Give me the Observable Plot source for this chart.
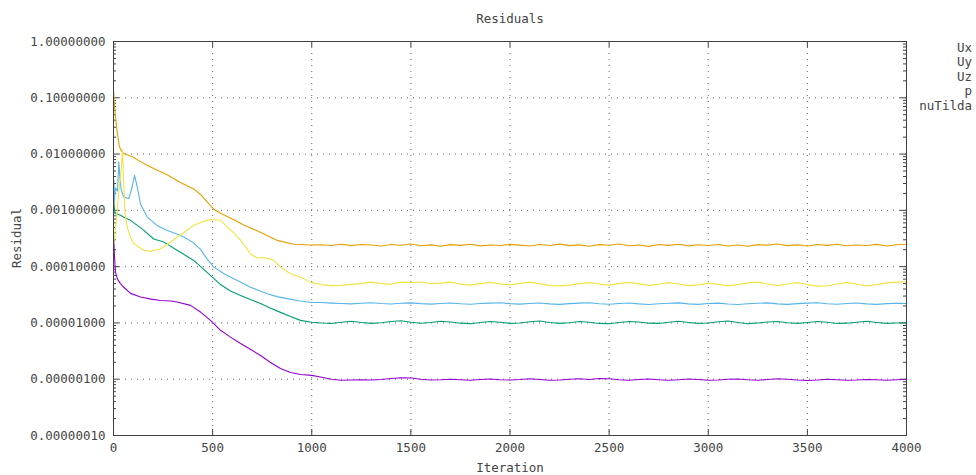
<!DOCTYPE html>
<html>
<head>
<meta charset="utf-8">
<script src="https://cdn.jsdelivr.net/npm/d3@7"></script>
<script src="https://cdn.jsdelivr.net/npm/@observablehq/plot@0.6"></script>
<style>
  html, body { margin: 0; padding: 0; background: #fff; }
  #wrap { position: relative; width: 976px; height: 475px; font-family: "DejaVu Sans Mono", monospace; font-size: 12.5px; color: #444; }
  .lbl { position: absolute; white-space: nowrap; line-height: 14px; }
  #legend { position: absolute; right: 4px; top: 40.5px; text-align: right; line-height: 14.5px; }
</style>
</head>
<body>
<div id="wrap">
  <div id="chart"></div>
  <div class="lbl" style="left:510px; top:12px; transform:translateX(-50%);">Residuals</div>
  <div class="lbl" style="left:510px; top:461px; transform:translateX(-50%);">Iteration</div>
  <div class="lbl" style="left:17px; top:238px; transform:translate(-50%,-50%) rotate(-90deg);">Residual</div>
  <div id="legend"></div>
</div>
<script>
// ---- Series names / colours ----
const seriesNames = ["Ux", "Uy", "Uz", "p", "nuTilda"];
const seriesColors = ["#9400D3", "#009E73", "#56B4E9", "#E69F00", "#F0E442"];

// ---- Tick values ----
const xTicks = [0, 500, 1000, 1500, 2000, 2500, 3000, 3500, 4000];
const yTicks = [1e-7, 1e-6, 1e-5, 1e-4, 1e-3, 1e-2, 1e-1, 1];

// ---- Early (transient) phase ----
const uxIter = [1, 5, 10, 20, 35, 52, 86, 136, 190, 237, 290, 321, 388, 439, 489, 540, 590, 641, 690, 742, 790, 842, 893, 943, 1000];
const uxVal = [3.5e-4, 1.5e-4, 8e-5, 6e-5, 5e-5, 4.3e-5, 3.35e-5, 2.88e-5, 2.65e-5, 2.51e-5, 2.45e-5, 2.35e-5, 2.05e-5, 1.56e-5, 1.11e-5, 7.4e-6, 5.6e-6, 4.3e-6, 3.4e-6, 2.64e-6, 2.0e-6, 1.55e-6, 1.32e-6, 1.21e-6, 1.17e-6];

const uyIter = [1, 3, 8, 20, 35, 60, 86, 120, 153, 203, 254, 321, 405, 489, 540, 590, 641, 690, 742, 790, 842, 893, 943, 1000];
const uyVal = [3.5e-3, 1.2e-3, 8.8e-4, 8.5e-4, 8.2e-4, 7.3e-4, 6.65e-4, 5.4e-4, 4.4e-4, 3.1e-4, 2.73e-4, 1.95e-4, 1.29e-4, 7.0e-5, 4.8e-5, 3.7e-5, 3.08e-5, 2.6e-5, 2.22e-5, 1.85e-5, 1.54e-5, 1.3e-5, 1.11e-5, 1.03e-5];

const uzIter = [1, 4, 10, 20, 27, 33, 39, 52, 77, 94, 106, 120, 136, 170, 220, 271, 320, 355, 400, 439, 470, 506, 560, 607, 650, 691, 740, 775, 830, 876, 940, 1000];
const uzVal = [3.0e-3, 1.5e-3, 2.5e-3, 2.2e-3, 7.2e-3, 3.5e-3, 2.3e-3, 1.73e-3, 1.62e-3, 2.6e-3, 4.2e-3, 2.6e-3, 1.3e-3, 7.6e-4, 5.4e-4, 4.4e-4, 3.8e-4, 3.36e-4, 2.7e-4, 2.03e-4, 1.4e-4, 9.8e-5, 7.4e-5, 6.1e-5, 5.1e-5, 4.3e-5, 3.7e-5, 3.3e-5, 2.9e-5, 2.7e-5, 2.45e-5, 2.31e-5];

const pIter = [1, 3, 6, 12, 20, 30, 40, 50, 100, 150, 200, 270, 340, 405, 440, 470, 506, 540, 607, 657, 740, 825, 909, 1000];
const pVal = [0.13, 0.09, 0.065, 0.04, 0.023, 0.0135, 0.0115, 0.0103, 0.0088, 0.0069, 0.0056, 0.0043, 0.0031, 0.0024, 0.0019, 0.00145, 0.00105, 0.00089, 0.00068, 0.00055, 0.00041, 0.000293, 0.00025, 0.000243];

const nuIter = [1, 15, 30, 40, 45, 50, 54, 58, 69, 85, 102, 153, 187, 237, 280, 321, 365, 405, 450, 489, 520, 540, 574, 610, 641, 691, 725, 750, 775, 809, 842, 893, 943, 1000];
const nuVal = [2.5e-4, 7e-4, 2.8e-3, 6e-3, 1.2e-2, 4e-3, 1.8e-3, 9e-4, 5.05e-4, 3.4e-4, 2.56e-4, 1.95e-4, 1.87e-4, 2.08e-4, 2.6e-4, 3.36e-4, 4.3e-4, 5.42e-4, 6.3e-4, 6.84e-4, 6.8e-4, 6.65e-4, 5.05e-4, 3.9e-4, 2.93e-4, 1.70e-4, 1.42e-4, 1.45e-4, 1.42e-4, 1.29e-4, 9.8e-5, 7.5e-5, 6.5e-5, 5.2e-5];

// ---- Converged phase, sampled every 50 iterations ----
const lateIter = [1050, 1100, 1150, 1200, 1250, 1300, 1350, 1400, 1450, 1500,
  1550, 1600, 1650, 1700, 1750, 1800, 1850, 1900, 1950, 2000,
  2050, 2100, 2150, 2200, 2250, 2300, 2350, 2400, 2450, 2500,
  2550, 2600, 2650, 2700, 2750, 2800, 2850, 2900, 2950, 3000,
  3050, 3100, 3150, 3200, 3250, 3300, 3350, 3400, 3450, 3500,
  3550, 3600, 3650, 3700, 3750, 3800, 3850, 3900, 3950, 4000];

const uxLate = [1.08e-6, 1.0e-6, 0.96e-6, 0.97e-6, 0.98e-6, 0.97e-6, 0.99e-6, 1.03e-6, 1.06e-6, 1.05e-6,
  1.0e-6, 0.97e-6, 0.98e-6, 1.0e-6, 0.98e-6, 0.96e-6, 0.99e-6, 1.01e-6, 0.98e-6, 0.97e-6,
  0.99e-6, 1.02e-6, 0.99e-6, 0.96e-6, 0.97e-6, 1.0e-6, 1.02e-6, 0.99e-6, 1.03e-6, 1.02e-6,
  0.98e-6, 0.96e-6, 0.99e-6, 1.01e-6, 0.98e-6, 0.96e-6, 0.98e-6, 1.01e-6, 0.99e-6, 0.96e-6,
  0.97e-6, 1.0e-6, 1.01e-6, 0.98e-6, 0.96e-6, 0.99e-6, 1.02e-6, 1.0e-6, 0.97e-6, 0.95e-6,
  0.97e-6, 1.0e-6, 0.98e-6, 0.96e-6, 0.97e-6, 0.99e-6, 0.98e-6, 0.96e-6, 0.98e-6, 0.99e-6];

const uyLate = [1.00e-5, 0.98e-5, 1.03e-5, 1.07e-5, 1.02e-5, 0.98e-5, 1.01e-5, 1.06e-5, 1.09e-5, 1.03e-5,
  0.99e-5, 1.02e-5, 1.07e-5, 1.04e-5, 0.99e-5, 0.97e-5, 1.02e-5, 1.06e-5, 1.03e-5, 0.98e-5,
  1.00e-5, 1.05e-5, 1.08e-5, 1.02e-5, 0.98e-5, 1.01e-5, 1.06e-5, 1.03e-5, 0.98e-5, 0.97e-5,
  1.02e-5, 1.06e-5, 1.04e-5, 0.99e-5, 0.98e-5, 1.03e-5, 1.07e-5, 1.02e-5, 0.98e-5, 1.00e-5,
  1.05e-5, 1.08e-5, 1.02e-5, 0.97e-5, 1.00e-5, 1.04e-5, 1.06e-5, 1.01e-5, 0.98e-5, 1.02e-5,
  1.06e-5, 1.03e-5, 0.98e-5, 0.99e-5, 1.03e-5, 1.07e-5, 1.02e-5, 0.98e-5, 1.00e-5, 1.01e-5];

const uzLate = [2.30e-5, 2.25e-5, 2.22e-5, 2.18e-5, 2.24e-5, 2.28e-5, 2.21e-5, 2.17e-5, 2.23e-5, 2.27e-5,
  2.20e-5, 2.16e-5, 2.22e-5, 2.26e-5, 2.19e-5, 2.15e-5, 2.21e-5, 2.25e-5, 2.29e-5, 2.20e-5,
  2.16e-5, 2.22e-5, 2.26e-5, 2.18e-5, 2.14e-5, 2.20e-5, 2.25e-5, 2.28e-5, 2.19e-5, 2.15e-5,
  2.21e-5, 2.26e-5, 2.18e-5, 2.13e-5, 2.19e-5, 2.24e-5, 2.27e-5, 2.18e-5, 2.14e-5, 2.21e-5,
  2.25e-5, 2.17e-5, 2.13e-5, 2.19e-5, 2.24e-5, 2.27e-5, 2.18e-5, 2.14e-5, 2.20e-5, 2.25e-5,
  2.28e-5, 2.19e-5, 2.15e-5, 2.21e-5, 2.26e-5, 2.18e-5, 2.14e-5, 2.20e-5, 2.24e-5, 2.22e-5];

const pLate = [2.45e-4, 2.38e-4, 2.50e-4, 2.36e-4, 2.47e-4, 2.42e-4, 2.33e-4, 2.48e-4, 2.40e-4, 2.52e-4,
  2.35e-4, 2.44e-4, 2.30e-4, 2.46e-4, 2.39e-4, 2.50e-4, 2.34e-4, 2.43e-4, 2.37e-4, 2.49e-4,
  2.41e-4, 2.32e-4, 2.47e-4, 2.38e-4, 2.51e-4, 2.36e-4, 2.44e-4, 2.31e-4, 2.46e-4, 2.40e-4,
  2.53e-4, 2.35e-4, 2.42e-4, 2.29e-4, 2.47e-4, 2.39e-4, 2.50e-4, 2.34e-4, 2.45e-4, 2.37e-4,
  2.48e-4, 2.33e-4, 2.43e-4, 2.30e-4, 2.46e-4, 2.41e-4, 2.52e-4, 2.36e-4, 2.44e-4, 2.32e-4,
  2.47e-4, 2.39e-4, 2.50e-4, 2.35e-4, 2.43e-4, 2.38e-4, 2.49e-4, 2.33e-4, 2.45e-4, 2.50e-4];

const nuLate = [4.8e-5, 4.6e-5, 4.65e-5, 4.85e-5, 5.0e-5, 5.3e-5, 5.0e-5, 4.85e-5, 5.3e-5, 5.2e-5,
  5.35e-5, 5.0e-5, 5.1e-5, 5.3e-5, 4.9e-5, 4.7e-5, 5.0e-5, 5.25e-5, 4.95e-5, 4.75e-5,
  5.05e-5, 5.3e-5, 5.0e-5, 4.6e-5, 4.55e-5, 4.7e-5, 5.0e-5, 5.2e-5, 4.9e-5, 4.7e-5,
  5.0e-5, 5.25e-5, 4.95e-5, 4.65e-5, 4.85e-5, 5.2e-5, 4.9e-5, 4.6e-5, 4.75e-5, 5.1e-5,
  4.85e-5, 4.55e-5, 4.8e-5, 5.15e-5, 5.3e-5, 4.9e-5, 4.6e-5, 4.9e-5, 5.2e-5, 4.8e-5,
  4.5e-5, 4.55e-5, 4.9e-5, 5.2e-5, 4.85e-5, 4.55e-5, 4.8e-5, 5.15e-5, 5.3e-5, 5.4e-5];

// ---- Build long table ----
const groups = [
  ["Ux", uxIter, uxVal, uxLate],
  ["Uy", uyIter, uyVal, uyLate],
  ["Uz", uzIter, uzVal, uzLate],
  ["p", pIter, pVal, pLate],
  ["nuTilda", nuIter, nuVal, nuLate]
];
const rows = [];
for (const [name, it, va, late] of groups) {
  it.forEach((x, i) => rows.push({series: name, iter: x, value: va[i]}));
  lateIter.forEach((x, i) => rows.push({series: name, iter: x, value: late[i]}));
}

// minor ticks on the log axis (2..9 within each decade)
const yMinor = [];
for (let e = -7; e < 0; e++) for (let m = 2; m <= 9; m++) yMinor.push(m * Math.pow(10, e));

const W = 976, H = 475, mL = 113, mR = 70, mT = 41, mB = 40;
const fw = W - mL - mR, fh = H - mT - mB;
const gridStyle = {stroke: "#666", strokeOpacity: 1, strokeWidth: 1, strokeDasharray: "1,5"};

const chart = Plot.plot({
  width: W, height: H,
  marginLeft: mL, marginRight: mR, marginTop: mT, marginBottom: mB,
  style: {fontFamily: "DejaVu Sans Mono, monospace", fontSize: "12.5px", color: "#444", background: "white", overflow: "visible"},
  x: {domain: [0, 4000]},
  y: {type: "log", domain: [1e-7, 1]},
  color: {domain: seriesNames, range: seriesColors},
  marks: [
    Plot.gridX(xTicks.slice(1, -1), gridStyle),
    Plot.gridY(yTicks.slice(1, -1), gridStyle),
    // inward ticks (left / right / bottom / top)
    Plot.tickY(yTicks, {y: d => d, stroke: "#404040", insetRight: fw - 6}),
    Plot.tickY(yTicks, {y: d => d, stroke: "#404040", insetLeft: fw - 6}),
    Plot.tickY(yMinor, {y: d => d, stroke: "#404040", insetRight: fw - 3}),
    Plot.tickY(yMinor, {y: d => d, stroke: "#404040", insetLeft: fw - 3}),
    Plot.tickX(xTicks, {x: d => d, stroke: "#404040", insetTop: fh - 6}),
    Plot.tickX(xTicks, {x: d => d, stroke: "#404040", insetBottom: fh - 6}),
    Plot.axisY({ticks: yTicks, tickFormat: d3.format(".8f"), tickSize: 0, tickPadding: 8, label: null}),
    Plot.axisX({ticks: xTicks, tickFormat: d => String(d), tickSize: 0, tickPadding: 8, label: null}),
    Plot.line(rows, {x: "iter", y: "value", z: "series", stroke: "series", strokeWidth: 1.1}),
    Plot.frame({stroke: "#404040"})
  ]
});
document.getElementById("chart").appendChild(chart);

document.getElementById("legend").innerHTML = seriesNames.map(s => `<div>${s}</div>`).join("");
</script>
</body>
</html>
